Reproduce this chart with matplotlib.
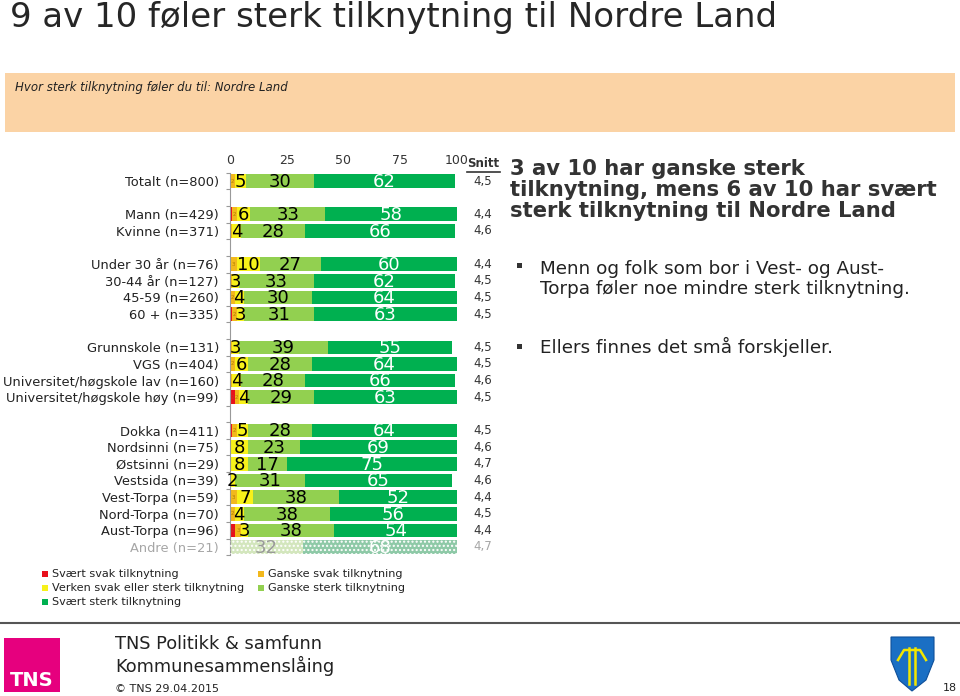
import matplotlib
matplotlib.use("Agg")
import matplotlib.pyplot as plt
from matplotlib.patches import Rectangle, Polygon
import numpy as np

plt.rcParams['font.family'] = ['DejaVu Sans']

categories = ["Totalt (n=800)", "", "Mann (n=429)", "Kvinne (n=371)", "",
              "Under 30 år (n=76)", "30-44 år (n=127)", "45-59 (n=260)", "60 + (n=335)", "",
              "Grunnskole (n=131)", "VGS (n=404)", "Universitet/høgskole lav (n=160)",
              "Universitet/høgskole høy (n=99)", "",
              "Dokka (n=411)", "Nordsinni (n=75)", "Østsinni (n=29)", "Vestsida (n=39)",
              "Vest-Torpa (n=59)", "Nord-Torpa (n=70)", "Aust-Torpa (n=96)", "Andre (n=21)"]

svaert_svak   = [0, None, 1, 0, None, 0, 0, 0, 1, None, 0, 0, 0, 2, None, 1, 0, 0, 0, 0, 0, 2, 0]
ganske_svak   = [2, None, 2, 1, None, 3, 1, 2, 2, None, 1, 2, 1, 2, None, 2, 0, 0, 0, 3, 2, 3, 0]
verken        = [5, None, 6, 4, None, 10, 3, 4, 3, None, 3, 6, 4, 4, None, 5, 8, 8, 2, 7, 4, 3, 0]
ganske_sterk  = [30, None, 33, 28, None, 27, 33, 30, 31, None, 39, 28, 28, 29, None, 28, 23, 17, 31, 38, 38, 38, 32]
svaert_sterk  = [62, None, 58, 66, None, 60, 62, 64, 63, None, 55, 64, 66, 63, None, 64, 69, 75, 65, 52, 56, 54, 68]
snitt = ["4,5", "", "4,4", "4,6", "", "4,4", "4,5", "4,5", "4,5", "",
         "4,5", "4,5", "4,6", "4,5", "", "4,5", "4,6", "4,7", "4,6", "4,4", "4,5", "4,4", "4,7"]
x_ticks = [0, 25, 50, 75, 100]
series_names = ["Svært svak tilknytning", "Ganske svak tilknytning",
                "Verken svak eller sterk tilknytning", "Ganske sterk tilknytning",
                "Svært sterk tilknytning"]
colors = ["#e8101c", "#f2b81c", "#f7f11a", "#92d050", "#00b050"]
faded = ["#f4a0a0", "#f8dca0", "#fbf8a0", "#d3e6bd", "#8ec9a7"]

fig = plt.figure(figsize=(9.6, 6.96), dpi=100)

# Title
fig.text(10/960, 1-17/696, "9 av 10 føler sterk tilknytning til Nordre Land",
         fontsize=24.5, color="#262626", va="center", ha="left")
# Question banner
fig.patches.append(Rectangle((5/960, 1-132/696), 950/960, 59/696, transform=fig.transFigure,
                             facecolor="#fbd3a5", edgecolor="none"))
fig.text(15/960, 1-87/696, "Hvor sterk tilknytning føler du til: Nordre Land",
         fontsize=8.5, style="italic", color="#222222", va="center", ha="left")

ax = fig.add_axes([230/960, 1-555.3/696, 227/960, 382.6/696])
series = [svaert_svak, ganske_svak, verken, ganske_sterk, svaert_sterk]
n = len(categories)
for i in range(n):
    if series[0][i] is None:
        continue
    left = 0
    andre = categories[i].startswith("Andre")
    for k, s in enumerate(series):
        v = s[i]
        if v:
            col = faded[k] if andre else colors[k]
            ax.barh(i, v, left=left, height=0.82, color=col, edgecolor="none", zorder=2)
            if andre:
                ax.barh(i, v, left=left, height=0.82, facecolor="none",
                        edgecolor="white", linewidth=0, hatch="....", zorder=3)
            cx = left + v/2
            if k <= 1:
                if v >= 2:
                    ax.text(cx, i, str(v), ha="center", va="center", fontsize=4,
                            color="#c0392b" if k == 0 else "#b08000", zorder=4)
            elif k == 2:
                ax.text(cx, i + 0.05, str(v), ha="center", va="center", fontsize=13,
                        color="black", zorder=4)
            elif k == 3:
                ax.text(cx, i + 0.05, str(v), ha="center", va="center", fontsize=13,
                        color="#9a9a9a" if andre else "black", zorder=4)
            else:
                ax.text(cx, i + 0.05, str(v), ha="center", va="center", fontsize=13,
                        color="white", zorder=4)
        left += v
    ax.text(111.5, i, snitt[i], ha="center", va="center", fontsize=8.5,
            color="#a6a6a6" if andre else "#333333", clip_on=False)

ax.text(111.5, -1.05, "Snitt", ha="center", va="center", fontsize=8.5,
        fontweight="bold", color="#333333", clip_on=False)
ax.plot([104.3, 119], [-0.55, -0.55], color="#333333", lw=1.2, clip_on=False)

ax.set_xlim(0, 100)
ax.set_ylim(n - 0.5, -0.5)
ax.set_xticks(x_ticks)
ax.xaxis.tick_top()
ax.tick_params(axis="x", length=0, labelsize=9, colors="#333333", pad=4)
ax.set_yticks(range(n))
ax.set_yticklabels(categories, fontsize=9.4)
for lab in ax.get_yticklabels():
    if lab.get_text().startswith("Andre"):
        lab.set_color("#a6a6a6")
    else:
        lab.set_color("#222222")
ax.tick_params(axis="y", which="major", length=0, pad=8)
ax.set_yticks(np.arange(-0.5, n, 1.0), minor=True)
ax.tick_params(axis="y", which="minor", length=3, color="#999999", width=0.8, direction="out")
for sp in ["top", "right", "bottom"]:
    ax.spines[sp].set_visible(False)
ax.spines["left"].set_color("#999999")
ax.spines["left"].set_linewidth(0.8)

# Right-side commentary
fig.text(510/960, 1-190/696,
         "3 av 10 har ganske sterk\ntilknytning, mens 6 av 10 har svært\nsterk tilknytning til Nordre Land",
         fontsize=15.2, fontweight="bold", color="#333333", va="center", ha="left",
         linespacing=1.05)
for yb, txt in [(279, "Menn og folk som bor i Vest- og Aust-\nTorpa føler noe mindre sterk tilknytning."),
                (347, "Ellers finnes det små forskjeller.")]:
    by = yb - 14 if "\n" in txt else yb - 1
    fig.patches.append(Rectangle((517/960, 1-(by+3)/696), 5/960, 5/696,
                                 transform=fig.transFigure, facecolor="#333333"))
    fig.text(540/960, 1-yb/696, txt, fontsize=13.2, color="#222222", va="center", ha="left",
             linespacing=1.1)

# Legend
leg_pos = [(42, 574), (42, 588), (42, 602), (258, 574), (258, 588)]
for k, (lx, ly) in zip([0, 2, 4, 1, 3], leg_pos):
    fig.patches.append(Rectangle((lx/960, 1-(ly+3)/696), 6/960, 6/696, transform=fig.transFigure,
                                 facecolor=colors[k], edgecolor="none"))
    fig.text((lx+10)/960, 1-ly/696, series_names[k], fontsize=8.1, color="#222222",
             va="center", ha="left")

# Footer
fig.add_artist(plt.Line2D([0, 1], [1-623/696, 1-623/696], color="#555555", lw=1.5,
                          transform=fig.transFigure))
fig.patches.append(Rectangle((4/960, 1-692/696), 56/960, 54/696, transform=fig.transFigure,
                             facecolor="#e6007e", edgecolor="none"))
fig.text(32/960, 1-680/696, "TNS", fontsize=14, fontweight="bold", color="white",
         ha="center", va="center")
fig.text(115/960, 1-644/696, "TNS Politikk & samfunn", fontsize=12.8, color="#222222",
         ha="left", va="center")
fig.text(115/960, 1-666/696, "Kommunesammenslåing", fontsize=12.8, color="#222222",
         ha="left", va="center")
fig.text(115/960, 1-689/696, "© TNS 29.04.2015", fontsize=8, color="#222222",
         ha="left", va="center")
fig.text(957/960, 1-688/696, "18", fontsize=8, color="#222222", ha="right", va="center")

# Shield logo
shield = np.array([[891, 637], [934, 637], [934, 660], [926, 680], [912, 691], [899, 680], [891, 660]])
fig.patches.append(Polygon(np.column_stack([shield[:, 0]/960, 1-shield[:, 1]/696]),
                           closed=True, transform=fig.transFigure, facecolor="#1a6fc4",
                           edgecolor="#0e4f99", lw=0.8))
for x0 in [909, 915]:
    fig.add_artist(plt.Line2D([x0/960, x0/960], [1-648/696, 1-684/696], color="#f2e600", lw=1.8,
                              transform=fig.transFigure))
fig.add_artist(plt.Line2D([898/960, 904/960, 920/960, 926/960],
                          [1-660/696, 1-650/696, 1-650/696, 1-660/696], color="#f2e600", lw=1.8,
                          transform=fig.transFigure))

fig.savefig("out.png", dpi=100)
